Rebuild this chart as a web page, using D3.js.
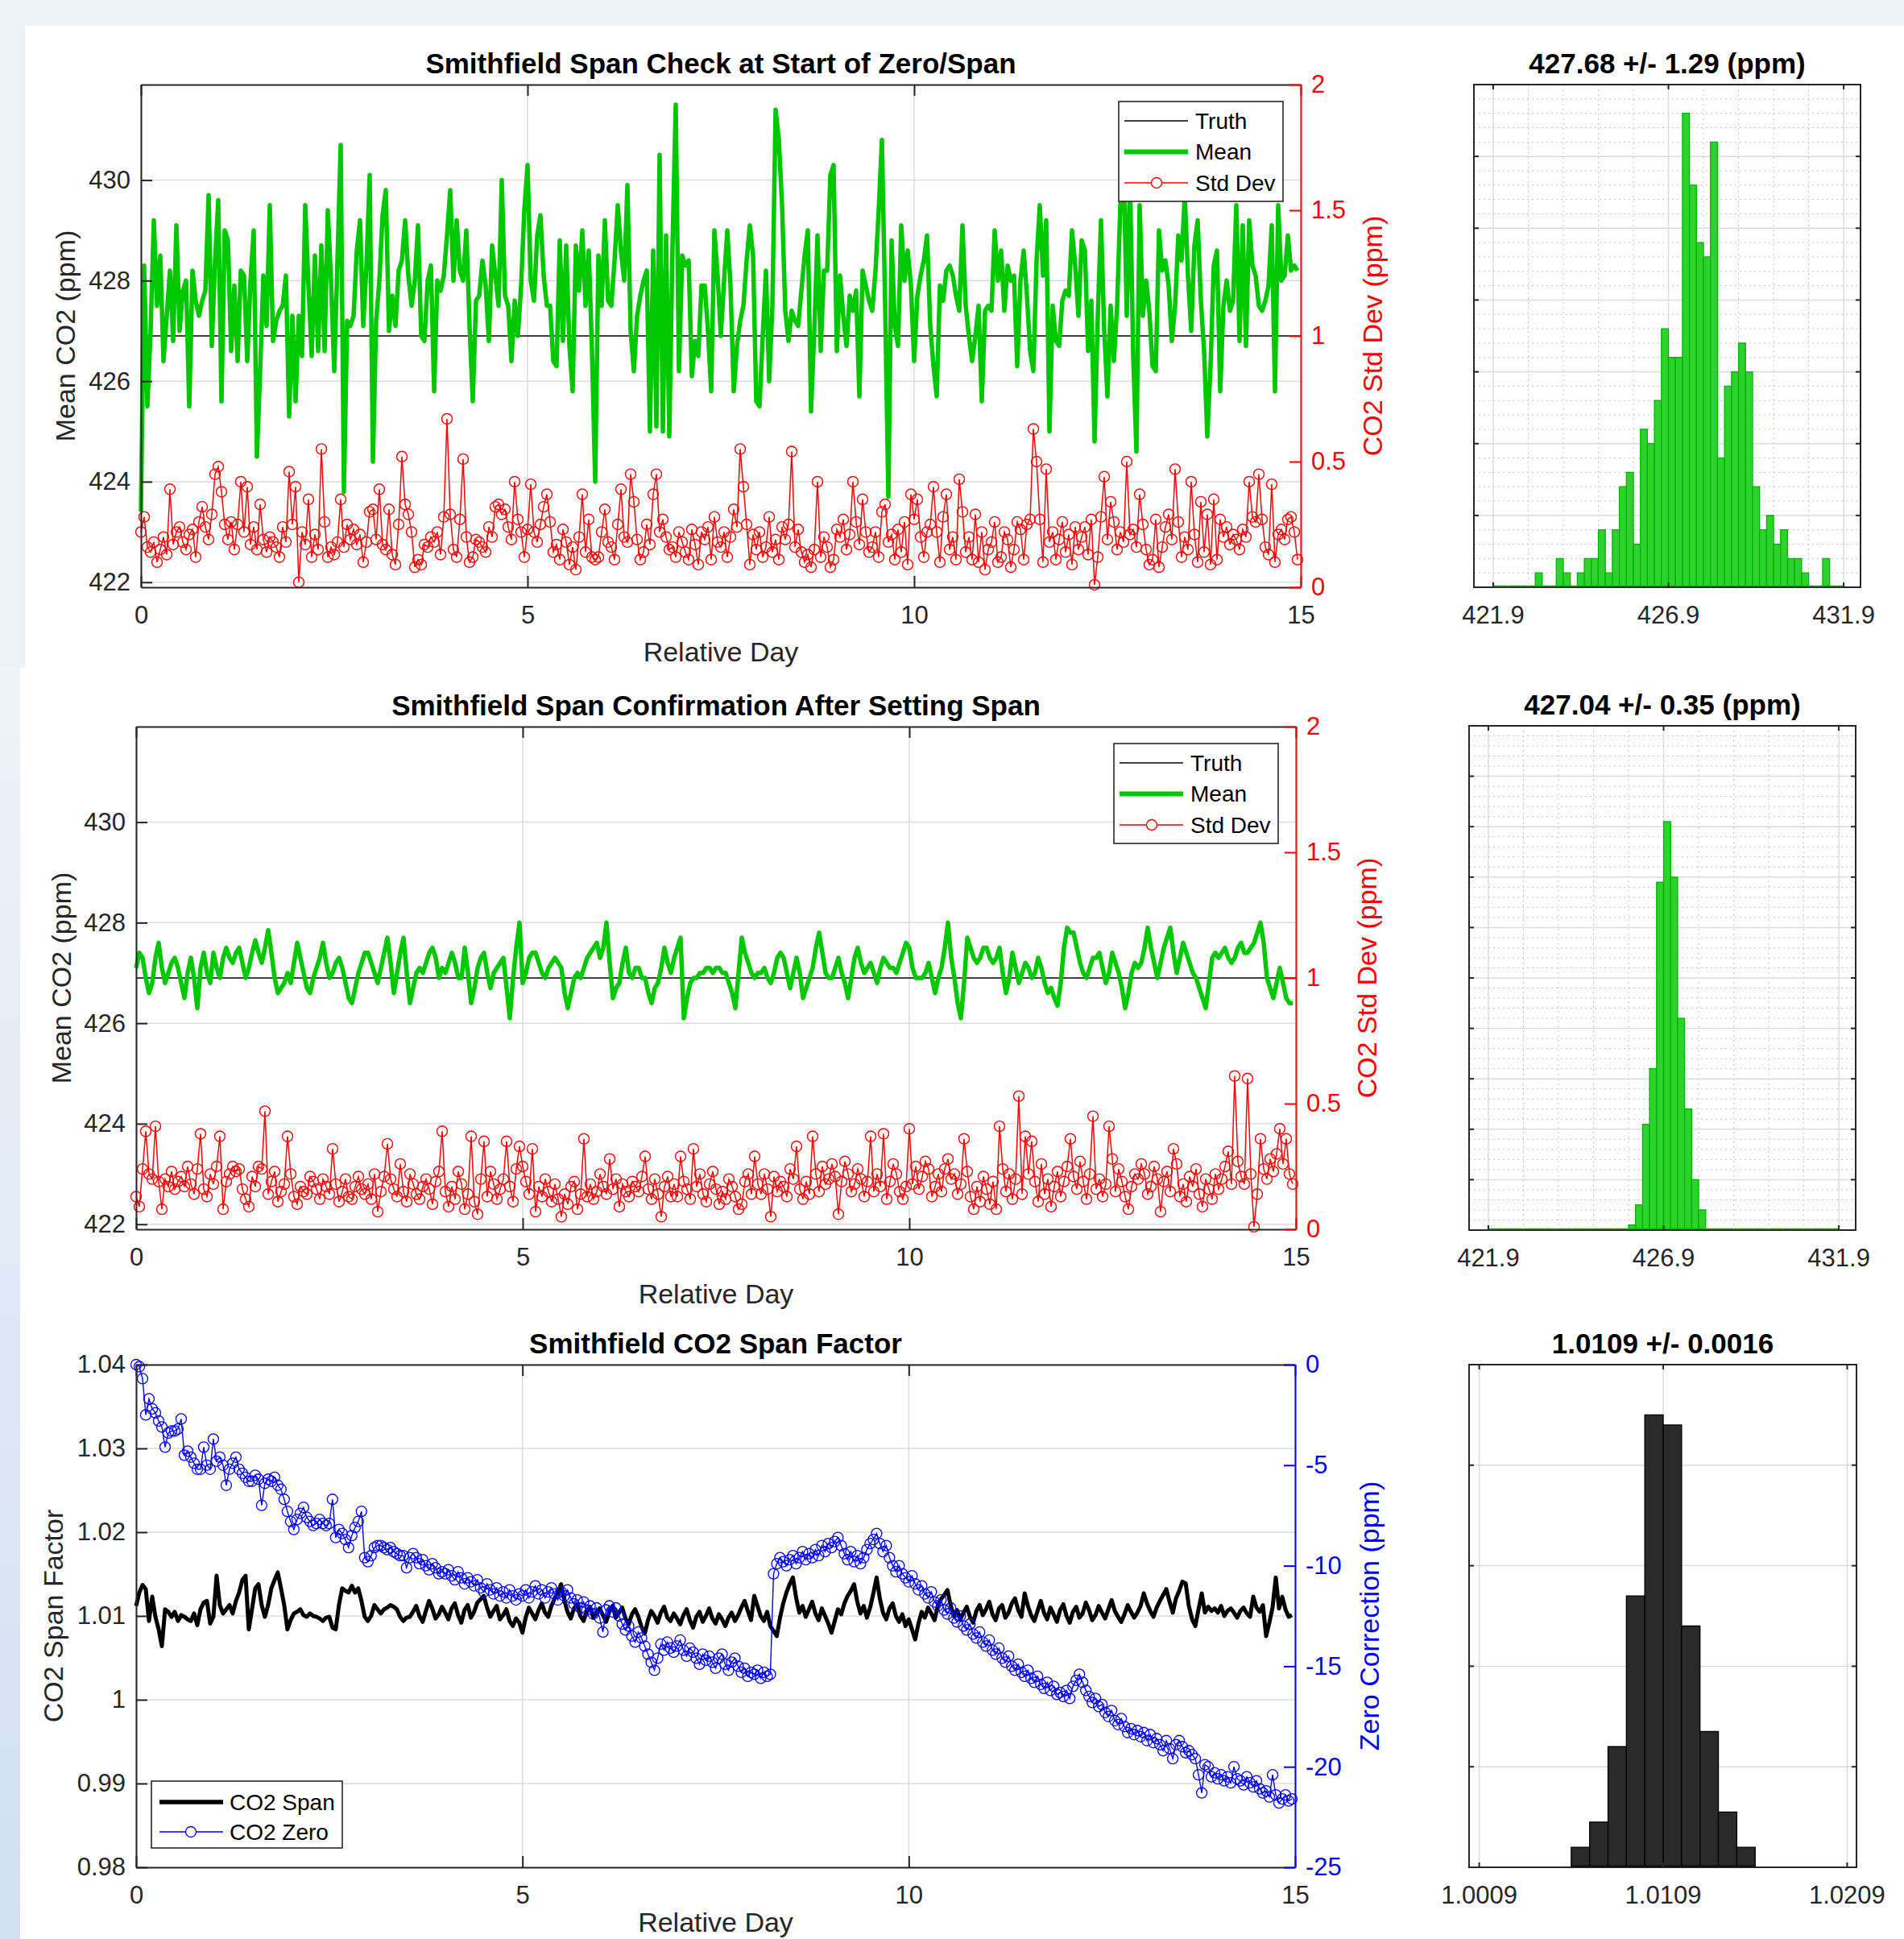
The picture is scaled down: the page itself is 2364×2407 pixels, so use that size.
<!DOCTYPE html>
<html><head><meta charset="utf-8">
<script src="https://cdn.jsdelivr.net/npm/d3@7"></script>
<style>
body{margin:0;background:#edf1f8;}
svg{display:block;}
</style>
</head><body>
<svg id="chart" width="2364" height="2407"></svg>
<script>
// ---------------- DATA ----------------
const SAMPLES_PER_DAY = 24;
const dayTicks = [0, 5, 10, 15];
const co2Ticks = [422, 424, 426, 428, 430];
const stdTicks = [0, 0.5, 1, 1.5, 2];
const spanTicks = [0.98, 0.99, 1, 1.01, 1.02, 1.03, 1.04];
const zeroTicks = [-25, -20, -15, -10, -5, 0];
const truthCO2 = 426.9;

const titles = {
  p1: "Smithfield Span Check at Start of Zero/Span",
  p2: "Smithfield Span Confirmation After Setting Span",
  p3: "Smithfield CO2 Span Factor",
  h1: "427.68 +/- 1.29 (ppm)",
  h2: "427.04 +/- 0.35 (ppm)",
  h3: "1.0109 +/- 0.0016"
};

const mean1 = [
423.4,428.3,425.5,427.0,429.2,427.5,428.5,426.4,427.3,428.2,426.8,429.1,427.0,427.8,428.0,425.5,428.2,427.6,427.3,427.6,427.8,429.7,426.7,428.4,
429.6,425.6,429.0,428.8,426.6,427.9,426.4,428.2,428.1,426.4,428.0,429.0,424.5,426.2,428.1,427.1,429.5,426.8,427.2,427.4,427.5,428.1,425.3,427.3,
425.6,427.3,426.5,429.5,427.9,426.5,428.5,426.6,428.7,426.6,429.4,428.0,426.2,428.4,430.7,423.8,427.2,427.1,427.3,428.6,429.2,427.1,428.3,430.1,
424.4,427.2,428.0,429.3,429.8,427.0,427.7,427.1,428.2,428.4,429.2,428.1,427.5,428.0,429.1,426.9,426.8,428.0,428.3,425.8,428.0,427.8,428.1,428.9,
429.8,428.0,429.2,428.2,428.0,429.0,427.1,425.6,427.6,427.7,428.4,427.9,426.8,428.7,428.1,427.5,430.0,427.7,427.5,426.4,427.6,426.9,427.9,429.4,
430.3,428.0,427.6,428.9,429.3,428.1,427.5,427.5,426.4,426.3,428.8,426.8,428.7,426.7,425.8,428.7,427.8,429.0,427.5,428.6,426.6,424.0,428.5,427.5,
429.2,427.6,427.5,428.4,429.5,428.6,428.0,429.9,427.0,426.2,427.3,427.7,428.0,428.2,425.0,428.6,425.1,430.5,425.0,428.9,424.9,428.7,431.5,426.2,
428.5,428.3,428.4,426.1,426.8,426.5,427.9,427.9,427.0,425.8,429.0,428.1,426.9,428.0,429.0,427.9,425.8,426.7,427.2,427.5,428.4,429.1,428.5,425.6,
425.5,426.9,428.2,426.0,427.5,431.4,430.8,429.5,427.4,426.8,427.4,427.2,427.1,427.8,428.5,429.0,425.4,427.0,428.9,426.6,428.2,428.2,430.1,430.3,
426.6,428.1,427.3,426.7,427.7,427.4,427.8,425.7,428.2,427.9,427.6,427.4,428.2,429.4,430.8,427.5,423.7,428.8,427.1,426.7,429.1,428.0,428.6,427.9,
426.4,427.7,428.1,428.4,428.9,427.1,426.3,425.7,427.9,427.6,428.2,428.3,428.1,427.7,427.4,429.1,427.5,426.9,426.4,426.9,427.5,425.6,427.4,427.5,
427.4,429.0,428.0,428.6,427.4,428.3,428.0,428.1,426.3,428.0,428.6,427.7,426.6,426.2,428.4,429.5,428.1,429.2,425.0,427.5,426.8,426.7,427.6,427.8,
427.7,429.0,428.3,427.3,428.8,428.6,426.6,427.6,424.8,427.3,429.2,427.0,425.7,427.5,426.4,427.5,429.5,430.4,427.3,430.0,426.5,424.6,429.5,427.3,
428.0,427.4,426.3,426.2,429.0,428.2,428.4,427.9,426.8,427.5,428.9,428.4,429.7,428.1,427.0,428.7,429.2,427.6,426.6,424.9,426.3,428.3,428.6,425.8,
427.5,428.0,427.4,427.6,429.5,426.8,429.1,426.7,429.2,428.3,428.1,427.5,427.4,427.6,427.9,429.1,425.8,429.5,428.0,428.1,428.9,428.2,428.3,428.2
];

const std1 = [
0.22,0.28,0.16,0.14,0.18,0.10,0.15,0.20,0.13,0.39,0.17,0.22,0.24,0.18,0.15,0.21,0.23,0.12,0.26,0.32,0.24,0.19,0.29,0.45,
0.48,0.38,0.25,0.19,0.26,0.15,0.25,0.42,0.22,0.40,0.17,0.24,0.15,0.33,0.19,0.14,0.20,0.18,0.16,0.12,0.24,0.18,0.46,0.25,
0.40,0.02,0.22,0.17,0.35,0.12,0.21,0.15,0.55,0.26,0.12,0.16,0.13,0.18,0.35,0.16,0.25,0.19,0.23,0.17,0.21,0.10,0.18,0.30,
0.31,0.19,0.39,0.17,0.15,0.31,0.13,0.09,0.25,0.52,0.33,0.29,0.22,0.08,0.11,0.09,0.17,0.16,0.20,0.18,0.22,0.13,0.28,0.67,
0.29,0.15,0.12,0.27,0.51,0.20,0.10,0.12,0.19,0.18,0.16,0.14,0.24,0.20,0.32,0.33,0.29,0.31,0.24,0.19,0.42,0.27,0.22,0.12,
0.23,0.41,0.22,0.18,0.25,0.32,0.37,0.26,0.14,0.17,0.11,0.23,0.18,0.09,0.16,0.07,0.20,0.37,0.14,0.27,0.12,0.11,0.12,0.22,
0.31,0.18,0.16,0.11,0.25,0.39,0.20,0.18,0.45,0.34,0.19,0.11,0.14,0.25,0.17,0.37,0.45,0.22,0.27,0.20,0.15,0.16,0.12,0.22,
0.18,0.14,0.11,0.23,0.17,0.09,0.22,0.19,0.24,0.11,0.28,0.18,0.16,0.22,0.12,0.20,0.31,0.24,0.55,0.40,0.25,0.09,0.21,0.15,
0.22,0.12,0.16,0.28,0.14,0.19,0.11,0.24,0.19,0.25,0.54,0.16,0.23,0.14,0.10,0.13,0.08,0.15,0.42,0.12,0.20,0.16,0.08,0.11,
0.23,0.20,0.27,0.15,0.21,0.42,0.26,0.17,0.35,0.22,0.14,0.16,0.22,0.12,0.30,0.33,0.18,0.21,0.11,0.23,0.14,0.26,0.09,0.37,
0.27,0.35,0.20,0.12,0.22,0.25,0.40,0.22,0.10,0.28,0.37,0.15,0.20,0.11,0.43,0.30,0.14,0.20,0.11,0.29,0.10,0.22,0.07,0.15,
0.18,0.26,0.10,0.12,0.22,0.19,0.08,0.15,0.26,0.23,0.11,0.25,0.27,0.63,0.50,0.27,0.10,0.47,0.18,0.22,0.11,0.19,0.26,0.14,
0.21,0.09,0.24,0.15,0.20,0.24,0.13,0.27,0.01,0.12,0.28,0.44,0.19,0.34,0.26,0.15,0.22,0.18,0.50,0.21,0.23,0.16,0.37,0.25,
0.15,0.09,0.11,0.27,0.08,0.16,0.24,0.29,0.19,0.47,0.26,0.12,0.20,0.15,0.42,0.21,0.10,0.34,0.14,0.29,0.09,0.35,0.11,0.27,
0.20,0.24,0.17,0.21,0.19,0.15,0.23,0.20,0.42,0.28,0.26,0.45,0.27,0.16,0.13,0.41,0.10,0.21,0.23,0.19,0.27,0.28,0.22,0.11
];

const mean2 = [
427.1,427.4,427.3,426.9,426.6,426.8,427.3,427.6,427.1,426.8,427.0,427.2,427.3,427.1,426.8,426.5,427.0,427.3,426.9,426.3,427.1,427.4,427.0,426.8,
427.4,427.1,426.9,427.3,427.5,427.3,427.2,427.4,427.5,427.2,426.9,427.1,427.4,427.65,427.4,427.2,427.5,427.85,427.4,426.9,426.6,426.7,426.8,427.0,
426.8,427.2,427.6,427.3,427.0,426.7,426.6,426.9,427.1,427.3,427.6,427.2,426.9,427.0,427.2,427.3,427.1,426.8,426.5,426.4,426.7,427.0,427.2,427.4,
427.4,427.2,427.0,426.8,427.1,427.4,427.7,427.2,426.6,427.0,427.4,427.7,427.0,426.4,426.7,427.0,427.1,427.0,427.2,427.4,427.5,427.3,426.9,427.1,
427.0,427.2,427.4,427.2,426.9,426.9,427.5,427.0,426.4,426.7,427.1,427.3,427.4,427.0,426.7,427.0,427.1,427.2,427.3,426.7,426.1,426.9,427.5,428.0,
426.8,427.0,427.3,427.4,427.4,427.2,427.0,426.9,427.1,427.2,427.3,427.2,427.1,426.6,426.3,426.6,426.9,427.0,426.9,427.1,427.3,427.4,427.5,427.6,
427.3,427.5,428.0,427.2,426.5,426.7,426.8,427.2,427.5,427.0,426.9,427.1,427.1,426.9,426.9,426.6,426.4,426.7,426.8,427.1,427.5,427.2,427.0,427.3,
427.5,427.7,426.1,426.5,426.8,426.9,426.9,427.0,427.0,427.1,427.1,427.0,427.1,427.1,427.0,427.0,426.8,426.6,426.3,427.0,427.7,427.4,427.2,427.0,
426.9,427.0,427.0,427.1,426.9,426.8,427.0,427.3,427.4,427.3,427.0,426.7,427.0,427.3,427.0,426.5,426.7,426.9,427.1,427.5,427.8,427.4,427.0,426.9,
426.9,427.1,427.3,427.0,426.8,426.5,426.9,427.3,427.5,427.2,427.0,427.1,427.2,427.0,426.8,427.1,427.3,427.2,427.1,427.1,427.0,427.2,427.4,427.6,
427.5,427.1,426.9,426.9,426.9,427.0,427.2,426.9,426.6,426.9,427.1,427.5,428.0,427.3,426.9,426.4,426.1,426.8,427.7,427.5,427.3,427.2,427.3,427.5,
427.5,427.3,427.2,427.3,427.5,427.0,426.6,426.9,427.4,427.1,426.8,427.0,427.2,427.1,426.9,427.0,427.3,427.1,426.8,426.6,426.7,426.5,426.35,426.8,
427.5,427.9,427.8,427.8,427.5,427.2,427.0,426.9,427.1,427.3,427.3,427.4,427.1,426.8,427.0,427.4,427.2,427.0,426.7,426.3,426.6,427.0,427.2,427.1,
427.2,427.5,427.9,427.5,427.2,426.9,427.2,427.5,427.7,427.9,427.4,427.0,427.3,427.6,427.4,427.2,427.0,426.9,426.7,426.5,426.3,426.8,427.3,427.4,
427.3,427.4,427.5,427.3,427.2,427.3,427.5,427.6,427.4,427.4,427.5,427.6,427.8,428.0,427.6,426.9,426.7,426.5,426.8,427.1,426.8,426.5,426.4,426.4
];

const std2 = [
0.13,0.09,0.24,0.39,0.22,0.20,0.41,0.19,0.08,0.20,0.17,0.23,0.16,0.19,0.21,0.17,0.25,0.18,0.14,0.24,0.38,0.16,0.13,0.22,
0.18,0.25,0.37,0.08,0.19,0.22,0.25,0.23,0.24,0.16,0.12,0.09,0.21,0.17,0.25,0.24,0.47,0.14,0.19,0.23,0.11,0.15,0.18,0.37,
0.22,0.13,0.10,0.17,0.15,0.14,0.21,0.19,0.16,0.12,0.20,0.17,0.14,0.32,0.18,0.11,0.15,0.20,0.13,0.12,0.17,0.21,0.16,0.14,
0.18,0.12,0.22,0.07,0.15,0.21,0.34,0.20,0.16,0.13,0.26,0.15,0.11,0.22,0.18,0.14,0.12,0.17,0.20,0.16,0.10,0.19,0.23,0.39,
0.15,0.09,0.17,0.12,0.23,0.18,0.08,0.14,0.37,0.11,0.06,0.20,0.35,0.13,0.23,0.18,0.12,0.16,0.20,0.35,0.17,0.11,0.24,0.33,
0.25,0.19,0.14,0.32,0.07,0.17,0.13,0.20,0.15,0.11,0.18,0.12,0.05,0.14,0.10,0.17,0.19,0.08,0.14,0.36,0.13,0.18,0.12,0.15,
0.22,0.17,0.14,0.28,0.16,0.20,0.09,0.18,0.15,0.13,0.19,0.17,0.15,0.21,0.29,0.16,0.12,0.20,0.14,0.05,0.17,0.21,0.13,0.18,
0.13,0.29,0.19,0.16,0.12,0.32,0.17,0.22,0.14,0.11,0.18,0.23,0.16,0.10,0.15,0.12,0.20,0.17,0.13,0.08,0.10,0.19,0.22,0.14,
0.29,0.18,0.14,0.22,0.16,0.05,0.21,0.15,0.19,0.17,0.13,0.24,0.20,0.33,0.16,0.12,0.19,0.14,0.37,0.22,0.15,0.25,0.18,0.20,
0.26,0.21,0.06,0.19,0.27,0.22,0.15,0.18,0.24,0.20,0.13,0.19,0.37,0.15,0.22,0.17,0.38,0.12,0.19,0.26,0.22,0.15,0.12,0.17,
0.40,0.18,0.25,0.16,0.21,0.27,0.24,0.13,0.17,0.22,0.15,0.24,0.28,0.20,0.22,0.14,0.18,0.36,0.23,0.13,0.08,0.17,0.11,0.21,
0.16,0.10,0.19,0.08,0.41,0.24,0.15,0.22,0.12,0.20,0.53,0.14,0.37,0.22,0.35,0.19,0.11,0.26,0.14,0.20,0.09,0.17,0.23,0.13,
0.19,0.25,0.36,0.21,0.16,0.27,0.19,0.12,0.22,0.45,0.16,0.20,0.13,0.18,0.41,0.28,0.15,0.24,0.19,0.13,0.08,0.17,0.22,0.20,
0.26,0.22,0.14,0.17,0.25,0.20,0.07,0.19,0.23,0.15,0.32,0.26,0.13,0.18,0.11,0.21,0.17,0.24,0.14,0.09,0.20,0.16,0.12,0.22,
0.16,0.20,0.25,0.31,0.18,0.61,0.27,0.21,0.18,0.60,0.22,0.01,0.14,0.36,0.24,0.20,0.28,0.23,0.30,0.40,0.26,0.36,0.22,0.18
];

const spanFactor = [
1.0112,1.0128,1.0137,1.0132,1.0094,1.0123,1.0099,1.0084,1.0064,1.0108,1.0105,1.0099,1.0105,1.0094,1.0101,1.0099,1.0096,1.0094,1.0103,1.0089,1.0108,1.0116,1.0118,1.0091,
1.0099,1.0148,1.0113,1.0103,1.0108,1.0113,1.0103,1.0118,1.0128,1.0143,1.0148,1.0084,1.0108,1.0133,1.0138,1.0113,1.0099,1.0113,1.0133,1.0143,1.0152,1.0133,1.0113,1.0084,
1.0095,1.0103,1.0105,1.0108,1.0101,1.0099,1.0103,1.0100,1.0099,1.0097,1.0094,1.0098,1.0099,1.0086,1.0084,1.0113,1.0133,1.0130,1.0128,1.0136,1.0128,1.0133,1.0118,1.0099,
1.0094,1.0100,1.0113,1.0108,1.0103,1.0108,1.0110,1.0113,1.0111,1.0108,1.0099,1.0094,1.0098,1.0099,1.0105,1.0112,1.0100,1.0093,1.0106,1.0118,1.0109,1.0097,1.0102,1.0111,
1.0104,1.0096,1.0109,1.0115,1.0101,1.0092,1.0107,1.0113,1.0098,1.0105,1.0116,1.0120,1.0124,1.0110,1.0099,1.0106,1.0112,1.0096,1.0101,1.0108,1.0094,1.0088,1.0097,1.0092,
1.0080,1.0098,1.0110,1.0103,1.0096,1.0107,1.0115,1.0104,1.0099,1.0112,1.0121,1.0128,1.0138,1.0119,1.0105,1.0097,1.0109,1.0114,1.0100,1.0094,1.0106,1.0111,1.0098,1.0103,
1.0109,1.0101,1.0093,1.0105,1.0112,1.0098,1.0104,1.0110,1.0097,1.0090,1.0102,1.0108,1.0099,1.0087,1.0079,1.0095,1.0106,1.0100,1.0092,1.0104,1.0111,1.0098,1.0094,1.0103,
1.0097,1.0090,1.0101,1.0108,1.0095,1.0086,1.0099,1.0105,1.0093,1.0100,1.0109,1.0097,1.0091,1.0102,1.0096,1.0088,1.0098,1.0104,1.0094,1.0101,1.0110,1.0118,1.0106,1.0095,
1.0124,1.0112,1.0100,1.0094,1.0105,1.0088,1.0082,1.0076,1.0098,1.0115,1.0128,1.0138,1.0146,1.0122,1.0104,1.0112,1.0099,1.0108,1.0117,1.0103,1.0095,1.0109,1.0100,1.0091,
1.0080,1.0094,1.0108,1.0102,1.0115,1.0124,1.0130,1.0138,1.0117,1.0103,1.0112,1.0098,1.0110,1.0127,1.0146,1.0121,1.0104,1.0096,1.0109,1.0115,1.0100,1.0093,1.0102,1.0088,
1.0096,1.0084,1.0072,1.0091,1.0105,1.0098,1.0110,1.0103,1.0095,1.0112,1.0120,1.0125,1.0131,1.0113,1.0100,1.0107,1.0096,1.0104,1.0111,1.0099,1.0092,1.0106,1.0113,1.0101,
1.0108,1.0117,1.0102,1.0095,1.0109,1.0113,1.0098,1.0104,1.0115,1.0121,1.0107,1.0099,1.0127,1.0112,1.0101,1.0094,1.0106,1.0118,1.0104,1.0096,1.0110,1.0102,1.0093,1.0107,
1.0114,1.0100,1.0092,1.0105,1.0111,1.0098,1.0103,1.0116,1.0107,1.0095,1.0101,1.0112,1.0104,1.0097,1.0108,1.0119,1.0106,1.0099,1.0093,1.0102,1.0113,1.0105,1.0098,1.0104,
1.0112,1.0127,1.0115,1.0106,1.0099,1.0110,1.0118,1.0125,1.0132,1.0117,1.0104,1.0121,1.0130,1.0141,1.0139,1.0112,1.0096,1.0088,1.0108,1.0127,1.0104,1.0111,1.0106,1.0109,
1.0104,1.0112,1.0100,1.0106,1.0109,1.0104,1.0098,1.0106,1.0110,1.0103,1.0099,1.0123,1.0110,1.0105,1.0113,1.0076,1.0092,1.0110,1.0146,1.0109,1.0123,1.0108,1.0099,1.0101
];

const zeroCorr = [
0.0,-0.1,-0.7,-2.5,-1.7,-2.2,-2.4,-2.8,-3.1,-4.1,-3.4,-3.3,-3.3,-3.2,-2.7,-4.5,-4.3,-4.6,-4.9,-5.2,-5.2,-4.1,-5.0,-5.2,
-3.7,-4.8,-4.6,-5.0,-6.0,-5.2,-4.9,-4.6,-5.2,-5.4,-5.6,-5.8,-5.8,-5.5,-5.7,-7.0,-5.9,-5.7,-5.8,-5.6,-6.0,-6.2,-6.7,-7.3,
-7.8,-8.2,-7.7,-7.4,-7.1,-7.6,-7.8,-8.0,-7.9,-7.7,-7.9,-8.0,-7.9,-6.7,-8.6,-8.2,-8.4,-8.7,-9.1,-8.5,-8.1,-7.8,-7.3,-9.6,
-9.8,-9.5,-9.1,-9.0,-9.0,-9.1,-9.2,-9.1,-9.3,-9.4,-9.5,-9.5,-10.1,-9.6,-9.4,-9.6,-9.9,-9.7,-10.0,-10.2,-9.9,-10.1,-10.4,-10.3,
-10.4,-10.2,-10.5,-10.7,-10.3,-10.6,-10.9,-10.6,-10.8,-11.0,-10.7,-11.1,-11.3,-10.9,-11.2,-11.4,-11.1,-11.5,-11.3,-11.6,-11.2,-11.5,-11.7,-11.4,
-11.5,-11.2,-11.6,-11.3,-11.0,-11.4,-11.2,-11.6,-11.3,-11.1,-11.4,-11.7,-11.3,-11.5,-11.2,-11.6,-11.9,-11.7,-12.1,-11.8,-12.2,-12.0,-12.4,-12.1,
-12.6,-13.3,-12.2,-12.0,-12.3,-12.1,-12.5,-12.9,-13.2,-13.0,-13.5,-13.8,-13.3,-13.6,-14.0,-14.4,-14.8,-15.2,-14.6,-13.9,-14.2,-13.8,-14.1,-14.3,
-14.0,-13.7,-14.2,-14.5,-14.1,-14.3,-14.6,-14.9,-14.4,-14.7,-14.5,-14.8,-15.1,-14.6,-14.4,-14.9,-15.2,-14.8,-14.6,-15.0,-15.3,-15.1,-15.5,-15.3,
-15.4,-15.2,-15.6,-15.3,-15.5,-15.4,-10.4,-9.9,-9.6,-9.8,-10.0,-9.7,-9.5,-9.9,-9.6,-9.3,-9.7,-9.4,-9.6,-9.2,-9.5,-9.0,-9.3,-8.9,
-9.1,-8.8,-8.6,-9.0,-9.4,-9.7,-9.3,-9.8,-9.5,-9.9,-9.6,-9.2,-8.9,-8.7,-8.4,-8.9,-9.3,-9.0,-9.6,-10.0,-10.3,-10.0,-10.4,-10.6,
-10.8,-10.5,-10.9,-11.2,-11.0,-11.4,-11.6,-11.3,-11.8,-12.0,-11.7,-12.2,-12.4,-12.1,-12.6,-12.8,-12.5,-13.0,-13.2,-12.9,-13.4,-13.6,-13.3,-13.8,
-14.0,-13.7,-14.2,-14.4,-14.1,-14.6,-14.8,-14.5,-15.0,-15.2,-14.9,-15.3,-15.5,-15.2,-15.6,-15.8,-15.5,-15.9,-16.1,-15.8,-16.2,-16.0,-16.4,-16.3,
-16.5,-16.2,-16.6,-16.0,-15.7,-15.4,-15.8,-16.2,-16.5,-16.8,-16.6,-17.0,-16.9,-17.3,-17.5,-17.2,-17.7,-17.9,-17.6,-18.0,-18.3,-18.1,-18.4,-18.2,
-18.5,-18.3,-18.7,-18.4,-18.8,-18.6,-18.9,-19.2,-18.7,-19.1,-19.6,-18.9,-18.7,-19.0,-19.3,-19.2,-19.4,-19.6,-20.4,-21.3,-19.9,-20.0,-20.5,-20.3,
-20.6,-20.4,-20.7,-20.5,-20.8,-20.0,-20.6,-20.7,-20.9,-20.5,-20.8,-21.0,-20.7,-21.1,-21.3,-21.2,-21.5,-20.4,-21.4,-21.8,-21.6,-21.4,-21.7,-21.6
];

// histogram data (bin counts)
const co2BinStart = 421.9, co2BinWidth = 0.2;
const hist1Counts = [0,0,0,0,0,0,1,0,0,2,1,0,1,2,2,4,1,4,7,8,3,11,10,13,18,16,16,33,28,24,23,31,9,14,15,17,15,7,4,5,3,4,2,2,1,0,0,2,0,0];
const hist2Counts = [0,0,0,0,0,0,0,0,0,0,0,0,0,0,0,0,0,0,0,0,1,5,21,32,69,81,70,42,24,10,4,0,0,0,0,0,0,0,0,0,0,0,0,0,0,0,0,0,0,0];
const spanBinStart = 1.0059, spanBinWidth = 0.001;
const hist3Counts = [4,9,24,54,90,88,48,27,11,4];
const co2HistTicks = [421.9, 426.9, 431.9];
const co2HistMinor = [422.9, 423.9, 424.9, 425.9, 427.9, 428.9, 429.9, 430.9];
const spanHistTicks = [1.0009, 1.0109, 1.0209];

// ---------------- DRAWING ----------------
const W = 2364, H = 2407;
const FONT = '"Liberation Sans", Arial, Helvetica, sans-serif';
const AXC = '#262626';
const GRIDC = '#dcdcdc';
const GREEN = '#00c800';
const relDay = d3.range(mean1.length).map(i => i / SAMPLES_PER_DAY);

const svg = d3.select('#chart').attr('font-family', FONT);
const defs = svg.append('defs');
const grad = defs.append('linearGradient').attr('id', 'strip').attr('x1', 0).attr('x2', 0).attr('y1', 0).attr('y2', 1);
grad.append('stop').attr('offset', 0).attr('stop-color', '#eef2f9');
grad.append('stop').attr('offset', 1).attr('stop-color', '#d2e0f1');

svg.append('rect').attr('width', W).attr('height', H).attr('fill', '#edf1f8');
svg.append('rect').attr('x', 0).attr('y', 829).attr('width', 25).attr('height', H - 829).attr('fill', 'url(#strip)');
svg.append('rect').attr('x', 31).attr('y', 32).attr('width', W - 31).attr('height', 829 - 32).attr('fill', '#fff');
svg.append('rect').attr('x', 25).attr('y', 829).attr('width', W - 25).attr('height', H - 829).attr('fill', '#fff');

function styleAxis(g, col, fs) {
  g.attr('color', col).attr('font-size', fs).attr('font-family', FONT);
  g.select('.domain').attr('stroke-width', 2);
  g.selectAll('.tick line').attr('stroke-width', 2);
}

function tsPanel(o) {
  const g = svg.append('g');
  const x = d3.scaleLinear().domain([0, 15]).range([o.left, o.right]);
  const yL = d3.scaleLinear().domain(o.yLDomain).range([o.bottom, o.top]);
  const yR = d3.scaleLinear().domain(o.yRDomain).range([o.bottom, o.top]);
  // grid
  g.append('g').selectAll('line').data(dayTicks).join('line')
    .attr('x1', d => x(d)).attr('x2', d => x(d)).attr('y1', o.top).attr('y2', o.bottom)
    .attr('stroke', GRIDC).attr('stroke-width', 1.5);
  g.append('g').selectAll('line').data(o.yLTicks).join('line')
    .attr('x1', o.left).attr('x2', o.right).attr('y1', d => yL(d)).attr('y2', d => yL(d))
    .attr('stroke', GRIDC).attr('stroke-width', 1.5);
  // data
  o.draw(g.append('g'), x, yL, yR);
  // axes
  const fs = 31;
  styleAxis(g.append('g').attr('transform', `translate(0,${o.bottom})`)
    .call(d3.axisBottom(x).tickValues(dayTicks).tickSize(-14).tickSizeOuter(0).tickPadding(23).tickFormat(d => String(d))), AXC, fs);
  styleAxis(g.append('g').attr('transform', `translate(0,${o.top})`)
    .call(d3.axisTop(x).tickValues(dayTicks).tickSize(-14).tickSizeOuter(0).tickFormat('')), AXC, fs);
  styleAxis(g.append('g').attr('transform', `translate(${o.left},0)`)
    .call(d3.axisLeft(yL).tickValues(o.yLTicks).tickSize(-14).tickSizeOuter(0).tickPadding(13).tickFormat(d => String(d))), AXC, fs);
  styleAxis(g.append('g').attr('transform', `translate(${o.right},0)`)
    .call(d3.axisRight(yR).tickValues(o.yRTicks).tickSize(-14).tickSizeOuter(0).tickPadding(13).tickFormat(d => String(d))), o.rColor, fs);
  // labels
  const mid = (o.top + o.bottom) / 2;
  g.append('text').attr('x', (o.left + o.right) / 2).attr('y', o.top - 14)
    .attr('text-anchor', 'middle').attr('font-size', 35).attr('font-weight', 'bold').attr('fill', '#000').text(o.title);
  g.append('text').attr('x', (o.left + o.right) / 2).attr('y', o.bottom + (o.xLabelOffset || 92))
    .attr('text-anchor', 'middle').attr('font-size', 34).attr('fill', AXC).text('Relative Day');
  g.append('text').attr('transform', `translate(${o.yLabelX + 12},${mid}) rotate(-90)`)
    .attr('text-anchor', 'middle').attr('font-size', 34).attr('fill', AXC).text(o.yLLabel);
  g.append('text').attr('transform', `translate(${o.yRLabelX + 12},${mid}) rotate(-90)`)
    .attr('text-anchor', 'middle').attr('font-size', 34).attr('fill', o.rColor).text(o.yRLabel);
  // legend
  o.legend(g.append('g'));
  return g;
}

function co2Draw(meanArr, stdArr) {
  return function (g, x, yL, yR) {
    g.append('line').attr('x1', x(0)).attr('x2', x(15)).attr('y1', yL(truthCO2)).attr('y2', yL(truthCO2))
      .attr('stroke', '#000').attr('stroke-width', 1.6);
    g.append('path').datum(meanArr)
      .attr('d', d3.line().x((d, i) => x(relDay[i])).y(d => yL(d)))
      .attr('fill', 'none').attr('stroke', GREEN).attr('stroke-width', 5.5).attr('stroke-linejoin', 'round');
    g.append('path').datum(stdArr)
      .attr('d', d3.line().x((d, i) => x(relDay[i])).y(d => yR(d)))
      .attr('fill', 'none').attr('stroke', '#ff0000').attr('stroke-width', 1.5);
    g.append('g').selectAll('circle').data(stdArr).join('circle')
      .attr('cx', (d, i) => x(relDay[i])).attr('cy', d => yR(d)).attr('r', 6.5)
      .attr('fill', 'none').attr('stroke', '#ff0000').attr('stroke-width', 1.4);
  };
}

function co2Legend(bx, by) {
  return function (g) {
    g.append('rect').attr('x', bx).attr('y', by).attr('width', 204).attr('height', 124)
      .attr('fill', '#fff').attr('stroke', AXC).attr('stroke-width', 1.6);
    const rows = [
      { t: 'Truth', c: '#000', w: 1.6, m: false },
      { t: 'Mean', c: GREEN, w: 6, m: false },
      { t: 'Std Dev', c: '#ff0000', w: 1.5, m: true }
    ];
    rows.forEach((r, k) => {
      const cy = by + 24 + k * 38.5;
      g.append('line').attr('x1', bx + 7).attr('x2', bx + 86).attr('y1', cy).attr('y2', cy)
        .attr('stroke', r.c).attr('stroke-width', r.w);
      if (r.m) g.append('circle').attr('cx', bx + 47).attr('cy', cy).attr('r', 6.5)
        .attr('fill', '#fff').attr('stroke', r.c).attr('stroke-width', 1.4);
      g.append('text').attr('x', bx + 95).attr('y', cy).attr('dy', '0.35em')
        .attr('font-size', 28).attr('fill', '#000').text(r.t);
    });
  };
}

// Panel 1
tsPanel({
  left: 175, right: 1615, top: 105, bottom: 729,
  yLDomain: [421.9, 431.9], yRDomain: [0, 2], yLTicks: co2Ticks, yRTicks: stdTicks,
  rColor: '#ff0000', title: titles.p1, yLLabel: 'Mean CO2 (ppm)', yRLabel: 'CO2 Std Dev (ppm)',
  yLabelX: 81, yRLabelX: 1704,
  draw: co2Draw(mean1, std1), legend: co2Legend(1389, 126)
});
// Panel 2
tsPanel({
  left: 169, right: 1609, top: 902, bottom: 1526,
  yLDomain: [421.9, 431.9], yRDomain: [0, 2], yLTicks: co2Ticks, yRTicks: stdTicks,
  rColor: '#ff0000', title: titles.p2, yLLabel: 'Mean CO2 (ppm)', yRLabel: 'CO2 Std Dev (ppm)',
  yLabelX: 76, yRLabelX: 1697,
  draw: co2Draw(mean2, std2), legend: co2Legend(1383, 923)
});
// Panel 3
tsPanel({
  left: 169, right: 1608, top: 1694, bottom: 2318,
  yLDomain: [0.98, 1.04], yRDomain: [-25, 0], yLTicks: spanTicks, yRTicks: zeroTicks,
  rColor: '#0000ff', title: titles.p3, yLLabel: 'CO2 Span Factor', yRLabel: 'Zero Correction (ppm)',
  yLabelX: 66, yRLabelX: 1700, xLabelOffset: 80,
  draw: function (g, x, yL, yR) {
    g.append('path').datum(spanFactor)
      .attr('d', d3.line().x((d, i) => x(relDay[i])).y(d => yL(d)))
      .attr('fill', 'none').attr('stroke', '#000').attr('stroke-width', 5).attr('stroke-linejoin', 'round');
    g.append('path').datum(zeroCorr)
      .attr('d', d3.line().x((d, i) => x(relDay[i])).y(d => yR(d)))
      .attr('fill', 'none').attr('stroke', '#0000ff').attr('stroke-width', 1.4);
    g.append('g').selectAll('circle').data(zeroCorr).join('circle')
      .attr('cx', (d, i) => x(relDay[i])).attr('cy', d => yR(d)).attr('r', 6.5)
      .attr('fill', 'none').attr('stroke', '#0000ff').attr('stroke-width', 1.3);
  },
  legend: function (g) {
    const bx = 188, by = 2211;
    g.append('rect').attr('x', bx).attr('y', by).attr('width', 237).attr('height', 83)
      .attr('fill', '#fff').attr('stroke', AXC).attr('stroke-width', 1.6);
    g.append('line').attr('x1', bx + 10).attr('x2', bx + 89).attr('y1', by + 26).attr('y2', by + 26)
      .attr('stroke', '#000').attr('stroke-width', 5.5);
    g.append('line').attr('x1', bx + 10).attr('x2', bx + 89).attr('y1', by + 63).attr('y2', by + 63)
      .attr('stroke', '#0000ff').attr('stroke-width', 1.4);
    g.append('circle').attr('cx', bx + 49).attr('cy', by + 63).attr('r', 6.5)
      .attr('fill', '#fff').attr('stroke', '#0000ff').attr('stroke-width', 1.3);
    g.append('text').attr('x', bx + 97).attr('y', by + 26).attr('dy', '0.35em').attr('font-size', 28).text('CO2 Span');
    g.append('text').attr('x', bx + 97).attr('y', by + 63).attr('dy', '0.35em').attr('font-size', 28).text('CO2 Zero');
  }
});

function histPanel(o) {
  const g = svg.append('g');
  const x = d3.scaleLinear().domain(o.xDomain).range([o.left, o.right]);
  const y = d3.scaleLinear().domain([0, o.yMax]).range([o.bottom, o.top]);
  // minor grid (dotted)
  if (o.yMinor) {
    const yMin = d3.range(o.yMinor, o.yMax, o.yMinor).filter(v => Math.abs(v / o.yMajor - Math.round(v / o.yMajor)) > 1e-6);
    g.append('g').selectAll('line').data(yMin).join('line')
      .attr('x1', o.left).attr('x2', o.right).attr('y1', d => y(d)).attr('y2', d => y(d))
      .attr('stroke', '#c4c4c4').attr('stroke-width', 1).attr('stroke-dasharray', '2,4');
    g.append('g').selectAll('line').data(o.xMinor).join('line')
      .attr('x1', d => x(d)).attr('x2', d => x(d)).attr('y1', o.top).attr('y2', o.bottom)
      .attr('stroke', '#c4c4c4').attr('stroke-width', 1).attr('stroke-dasharray', '2,4');
  }
  const yMaj = d3.range(o.yMajor, o.yMax, o.yMajor);
  g.append('g').selectAll('line').data(yMaj).join('line')
    .attr('x1', o.left).attr('x2', o.right).attr('y1', d => y(d)).attr('y2', d => y(d))
    .attr('stroke', GRIDC).attr('stroke-width', 1.5);
  g.append('g').selectAll('line').data(o.xTicks).join('line')
    .attr('x1', d => x(d)).attr('x2', d => x(d)).attr('y1', o.top).attr('y2', o.bottom)
    .attr('stroke', GRIDC).attr('stroke-width', 1.5);
  // box & ticks
  const tl = 6;
  g.append('rect').attr('x', o.left).attr('y', o.top).attr('width', o.right - o.left).attr('height', o.bottom - o.top)
    .attr('fill', 'none').attr('stroke', AXC).attr('stroke-width', 2);
  // bars (drawn over the box bottom so empty bins show as a flat line)
  g.append('g').selectAll('path').data(o.counts).join('path')
    .attr('d', (c, k) => {
      const x0 = x(o.binStart + k * o.binWidth), x1 = x(o.binStart + (k + 1) * o.binWidth);
      const yb = y(0) - 1.5;
      return `M${x0},${yb}V${Math.min(y(c), yb)}H${x1}V${yb}Z`;
    })
    .attr('fill', o.fill).attr('stroke', o.stroke).attr('stroke-width', 1.3);
  yMaj.forEach(v => {
    g.append('line').attr('x1', o.left).attr('x2', o.left + tl).attr('y1', y(v)).attr('y2', y(v)).attr('stroke', AXC).attr('stroke-width', 2);
    g.append('line').attr('x1', o.right - tl).attr('x2', o.right).attr('y1', y(v)).attr('y2', y(v)).attr('stroke', AXC).attr('stroke-width', 2);
  });
  o.xTicks.forEach(v => {
    g.append('line').attr('x1', x(v)).attr('x2', x(v)).attr('y1', o.bottom).attr('y2', o.bottom - tl).attr('stroke', AXC).attr('stroke-width', 2);
    g.append('line').attr('x1', x(v)).attr('x2', x(v)).attr('y1', o.top).attr('y2', o.top + tl).attr('stroke', AXC).attr('stroke-width', 2);
  });
  g.append('g').selectAll('text').data(o.xTicks).join('text')
    .attr('x', d => x(d)).attr('y', o.bottom + 45).attr('text-anchor', 'middle')
    .attr('font-size', 31).attr('fill', AXC).text(d => String(d));
  g.append('text').attr('x', (o.left + o.right) / 2).attr('y', o.top - 14)
    .attr('text-anchor', 'middle').attr('font-size', 35).attr('font-weight', 'bold').attr('fill', '#000').text(o.title);
}

histPanel({
  left: 1830, right: 2310, top: 105, bottom: 729, xDomain: [421.35, 432.38],
  yMax: 35, yMajor: 5, yMinor: 1, xTicks: co2HistTicks, xMinor: co2HistMinor,
  counts: hist1Counts, binStart: co2BinStart, binWidth: co2BinWidth,
  fill: '#2ed22e', stroke: '#00b400', title: titles.h1
});
histPanel({
  left: 1824, right: 2304, top: 901, bottom: 1527, xDomain: [421.35, 432.38],
  yMax: 100, yMajor: 10, yMinor: 2, xTicks: co2HistTicks, xMinor: co2HistMinor,
  counts: hist2Counts, binStart: co2BinStart, binWidth: co2BinWidth,
  fill: '#2ed22e', stroke: '#00b400', title: titles.h2
});
histPanel({
  left: 1824, right: 2305, top: 1694, bottom: 2318, xDomain: [1.000348, 1.021406],
  yMax: 100, yMajor: 20, yMinor: 0, xTicks: spanHistTicks, xMinor: [],
  counts: hist3Counts, binStart: spanBinStart, binWidth: spanBinWidth,
  fill: '#2a2a2a', stroke: '#000', title: titles.h3
});
</script>
</body></html>
